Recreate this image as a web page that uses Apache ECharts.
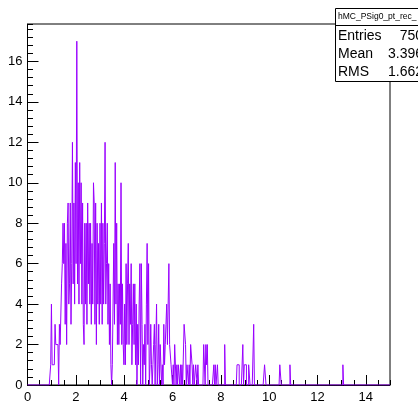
<!DOCTYPE html>
<html>
<head>
<meta charset="utf-8">
<script src="https://cdn.jsdelivr.net/npm/echarts@6.0.0/dist/echarts.min.js"></script>
<style>
  html, body { margin: 0; padding: 0; background: #fff; }
  #chart { width: 418px; height: 405px; }
</style>
</head>
<body>
<div id="chart"></div>
<script>
// Histogram binning: 500 bins over [0, 15]
const xMin = 0;
const xMax = 15;
const nBins = 500;
const binWidth = (xMax - xMin) / nBins;

// Bin contents, bins 32-99 (x 0.96 - 3.00)
const countsA = [
  1, 4, 1, 1, 1, 1, 3, 2, 2, 2, 2, 0, 3, 2, 2, 5, 6, 8, 6,
  8, 3, 7, 2, 8, 9, 4, 5, 9, 3, 6, 12,
  5, 9, 4, 11, 6, 17, 5, 10, 4, 11, 6, 10, 4, 9, 3, 2, 8, 4,
  8, 3, 9, 5, 8, 4, 8, 3, 7, 4, 10, 9, 3, 9, 2, 8, 4, 7, 3
];
const startA = 32;

// Bin contents, bins 100-199 (x 3.00 - 6.00)
const countsB = [
  8, 4, 9, 3, 8, 4, 7, 12, 4, 6, 8, 3, 6, 2, 5, 1, 0, 1, 1, 7,
  3, 11, 4, 8, 2, 5, 2, 5, 3, 10, 2, 5, 2, 1, 4, 1, 6, 2, 5, 7,
  2, 5, 3, 6, 1, 3, 5, 2, 5, 1, 4, 0, 3, 1, 4, 6, 0, 6, 3, 0,
  2, 1, 3, 0, 4, 7, 2, 6, 0, 1, 3, 1, 0, 1, 2, 3, 0, 2, 4, 0,
  1, 3, 0, 2, 2, 0, 1, 0, 3, 1, 2, 3, 4, 2, 4, 6, 2, 2, 1, 1
];
const startB = 100;

// Bin contents, bins 200-259 (x 6.00 - 7.80)
const countsC = [
  0, 1, 0, 2, 2, 0, 1, 0, 1, 1, 0, 1, 0, 1, 0, 0, 3, 3, 2, 0,
  1, 1, 0, 1, 0, 2, 2, 1, 0, 1, 0, 0, 1, 1, 0, 1, 0, 0, 0, 0,
  0, 0, 0, 2, 2, 0, 2, 1, 2, 0, 0, 0, 0, 0, 0, 0, 0, 1, 0, 1
];
const startC = 200;

// Isolated entries in the high tail
const tailBins   = [262, 272, 289, 290, 291, 297, 299, 300, 301, 305, 306, 312, 327, 328, 348, 349, 362, 435];
const tailCounts = [  1,   2,   1,   1,   1,   2,   1,   1,   1,   1,   1,   3,   1,   1,   1,   1,   1,   1];

// Axis ticks
const xMajorStep = 2;
const xMinorStep = 0.5;
const yMajorStep = 2;
const yMinorStep = 0.4;
const yMax = 17.85;

// Statistics box
const histName = 'hMC_PSig0_pt_rec_';
const statLabels = ['Entries', 'Mean', 'RMS'];
const statValues = ['750', '3.396', '1.662'];

const lineColor = '#9900ff';
const fontFamily = '"Liberation Sans", Arial, Helvetica, sans-serif';

// Fill the full bin array
const counts = new Array(nBins).fill(0);
[[countsA, startA], [countsB, startB], [countsC, startC]].forEach(([arr, s]) => {
  arr.forEach((v, i) => { counts[s + i] = v; });
});
tailBins.forEach((b, i) => { counts[b] = tailCounts[i]; });

// Step outline: one point per bin low edge, closing at the upper edge
const stepData = counts.map((c, i) => [xMin + i * binWidth, c]);
stepData.push([xMax, counts[nBins - 1]]);

const chart = echarts.init(document.getElementById('chart'), null, { renderer: 'canvas' });

const tickLabelStyle = { color: '#000', fontSize: 13, fontFamily: fontFamily };

const statGraphics = [];
statGraphics.push({
  type: 'rect', z: 100,
  shape: { x: 335.5, y: 8.5, width: 100, height: 73 },
  style: { fill: '#fff', stroke: '#000', lineWidth: 1 }
});
statGraphics.push({
  type: 'line', z: 101,
  shape: { x1: 335.5, y1: 25.5, x2: 430, y2: 25.5 },
  style: { stroke: '#000', lineWidth: 1 }
});
statGraphics.push({
  type: 'text', z: 102,
  style: { text: histName, x: 338, y: 16.5, fill: '#000', fontSize: 8.5, fontFamily: fontFamily, align: 'left', verticalAlign: 'middle' }
});
statLabels.forEach((lab, i) => {
  const y = 36 + i * 18;
  statGraphics.push({
    type: 'text', z: 102,
    style: { text: lab, x: 338, y: y, fill: '#000', fontSize: 14, fontFamily: fontFamily, align: 'left', verticalAlign: 'middle' }
  });
  statGraphics.push({
    type: 'text', z: 102,
    style: { text: statValues[i], x: 423, y: y, fill: '#000', fontSize: 14, fontFamily: fontFamily, align: 'right', verticalAlign: 'middle' }
  });
});

chart.setOption({
  animation: false,
  backgroundColor: '#fff',
  grid: {
    left: 27.5, right: 28, top: 24, bottom: 20,
    containLabel: false,
    outerBoundsMode: 'none',
    show: true, borderColor: '#000', borderWidth: 1, backgroundColor: 'transparent'
  },
  xAxis: [
    {
      type: 'value', position: 'bottom', min: xMin, max: xMax, interval: xMajorStep,
      axisLine: { show: true, onZero: false, lineStyle: { color: '#000', width: 1 } },
      axisTick: { show: true, inside: true, length: 10, lineStyle: { color: '#000', width: 1 } },
      axisLabel: { show: true, margin: 6, showMaxLabel: false, ...tickLabelStyle },
      splitLine: { show: false }
    },
    {
      type: 'value', position: 'bottom', min: xMin, max: xMax, interval: xMinorStep,
      axisLine: { show: false, onZero: false },
      axisTick: { show: true, inside: true, length: 5, lineStyle: { color: '#000', width: 1 } },
      axisLabel: { show: false },
      splitLine: { show: false }
    }
  ],
  yAxis: [
    {
      type: 'value', position: 'left', min: 0, max: yMax, interval: yMajorStep,
      axisLine: { show: true, onZero: false, lineStyle: { color: '#000', width: 1 } },
      axisTick: { show: true, inside: true, length: 11, lineStyle: { color: '#000', width: 1 } },
      axisLabel: { show: true, margin: 5, showMaxLabel: false, ...tickLabelStyle },
      splitLine: { show: false }
    },
    {
      type: 'value', position: 'left', min: 0, max: yMax, interval: yMinorStep,
      axisLine: { show: false, onZero: false },
      axisTick: { show: true, inside: true, length: 5.5, lineStyle: { color: '#000', width: 1 } },
      axisLabel: { show: false },
      splitLine: { show: false }
    }
  ],
  series: [
    {
      type: 'line', step: 'end', xAxisIndex: 0, yAxisIndex: 0,
      data: stepData, symbol: 'none', showSymbol: false,
      lineStyle: { color: lineColor, width: 1 },
      itemStyle: { color: lineColor },
      z: 10, silent: true
    }
  ],
  graphic: statGraphics
});
</script>
</body>
</html>
